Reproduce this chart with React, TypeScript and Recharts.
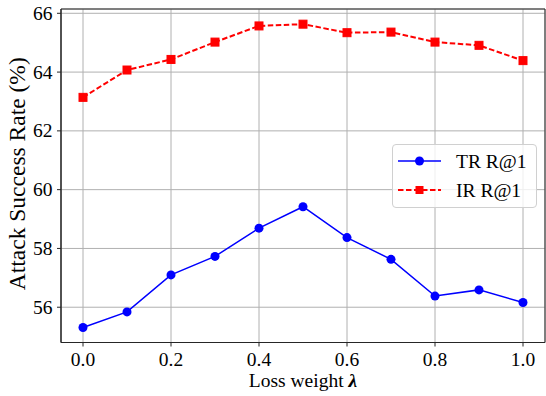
import React from "react";
import { LineChart, Line, XAxis, YAxis, CartesianGrid, Legend, ReferenceArea } from "recharts";

const lambdas = [0.0, 0.1, 0.2, 0.3, 0.4, 0.5, 0.6, 0.7, 0.8, 0.9, 1.0];
const trR1 = [55.31, 55.84, 57.1, 57.73, 58.69, 59.42, 58.37, 57.63, 56.38, 56.59, 56.16];
const irR1 = [63.14, 64.07, 64.43, 65.02, 65.57, 65.63, 65.34, 65.36, 65.02, 64.91, 64.39];
const xTicks = [0, 0.2, 0.4, 0.6, 0.8, 1.0];
const yTicks = [56, 58, 60, 62, 64, 66];
const xDomain: [number, number] = [-0.05, 1.05];
const yDomain: [number, number] = [54.8, 66.146];

const data = lambdas.map((l, i) => ({ lambda: l, tr: trR1[i], ir: irR1[i] }));

const FONT = "'Liberation Serif', 'DejaVu Serif', serif";
const FS = 19.5;

const SquareDot = (props: any) => {
  const { cx, cy, index } = props;
  if (cx == null || cy == null) return <g key={`sq-${index}`} />;
  return <rect key={`sq-${index}`} x={cx - 4} y={cy - 4} width={8} height={8} fill="#ff0000" stroke="#ff0000" strokeWidth={1} />;
};

const XTick = (props: any) => {
  const { x, y, payload } = props;
  return (
    <text x={x} y={y + 19} textAnchor="middle" fontFamily={FONT} fontSize={FS} fill="#000">
      {Number(payload.value).toFixed(1)}
    </text>
  );
};

const YTick = (props: any) => {
  const { x, y, payload } = props;
  return (
    <text x={x - 4.5} y={y + 6.6} textAnchor="end" fontFamily={FONT} fontSize={FS} fill="#000">
      {payload.value}
    </text>
  );
};

const LegendBox = () => (
  <div
    style={{
      width: 145,
      height: 64,
      boxSizing: "border-box",
      border: "1px solid #d0d0d0",
      borderRadius: 4,
      background: "rgba(255,255,255,0.8)",
      position: "relative",
    }}
  >
    <svg width={145} height={64} style={{ position: "absolute", left: -1, top: -1 }}>
      <line x1={6} y1={17} x2={49} y2={17} stroke="#0000ff" strokeWidth={1.5} />
      <circle cx={27.5} cy={17} r={4.5} fill="#0000ff" />
      <line x1={6} y1={46} x2={49} y2={46} stroke="#ff0000" strokeWidth={2} strokeDasharray="5.5 2.5" />
      <rect x={23.5} y={42} width={8} height={8} fill="#ff0000" />
      <text x={64} y={23.6} fontFamily={FONT} fontSize={FS} fill="#000">TR R@1</text>
      <text x={64} y={52.6} fontFamily={FONT} fontSize={FS} fill="#000">IR R@1</text>
    </svg>
  </div>
);

export default function App() {
  return (
    <div style={{ position: "absolute", left: 0, top: 0, width: 546, height: 396, background: "#fff" }}>
      <LineChart width={546} height={396} data={data} margin={{ top: 9, right: 1, bottom: 0, left: 0 }}>
        <CartesianGrid stroke="#b0b0b0" strokeWidth={1} />
        <XAxis
          dataKey="lambda"
          type="number"
          domain={xDomain}
          ticks={xTicks}
          allowDataOverflow
          height={53.5}
          tickSize={4}
          tickMargin={0}
          axisLine={{ stroke: "#262626" }}
          tickLine={{ stroke: "#262626" }}
          tick={<XTick />}
          label={(p: any) => {
            const vb = p.viewBox || {};
            return (
              <text x={vb.x + vb.width / 2} y={vb.y + 44.5} textAnchor="middle" fontFamily={FONT} fontSize={FS} fill="#000">
                Loss weight <tspan fontStyle="italic" fontWeight="bold">λ</tspan>
              </text>
            );
          }}
        />
        <YAxis
          type="number"
          domain={yDomain}
          ticks={yTicks}
          allowDataOverflow
          width={61}
          tickSize={4}
          tickMargin={0}
          axisLine={{ stroke: "#262626" }}
          tickLine={{ stroke: "#262626" }}
          tick={<YTick />}
          label={(p: any) => {
            const vb = p.viewBox || {};
            const cx = vb.x + 25;
            const cy = vb.y + vb.height / 2 - 2;
            return (
              <text x={cx} y={cy} transform={`rotate(-90 ${cx} ${cy})`} textAnchor="middle" fontFamily={FONT} fontSize={23.5} fill="#000">
                Attack Success Rate (%)
              </text>
            );
          }}
        />
        <ReferenceArea x1={xDomain[0]} x2={xDomain[1]} y1={yDomain[0]} y2={yDomain[1]} fill="none" stroke="#262626" strokeWidth={1} ifOverflow="visible" />
        <Line
          dataKey="tr"
          name="TR R@1"
          stroke="#0000ff"
          strokeWidth={1.5}
          dot={{ r: 4.5, fill: "#0000ff", stroke: "#0000ff", strokeWidth: 0 }}
          activeDot={false}
          isAnimationActive={false}
        />
        <Line
          dataKey="ir"
          name="IR R@1"
          stroke="#ff0000"
          strokeWidth={2}
          strokeDasharray="5.5 2.5"
          dot={SquareDot}
          activeDot={false}
          isAnimationActive={false}
        />
        <Legend content={<LegendBox />} wrapperStyle={{ left: 392, top: 144, width: 145, height: 0, overflow: "visible" }} />
      </LineChart>
    </div>
  );
}
